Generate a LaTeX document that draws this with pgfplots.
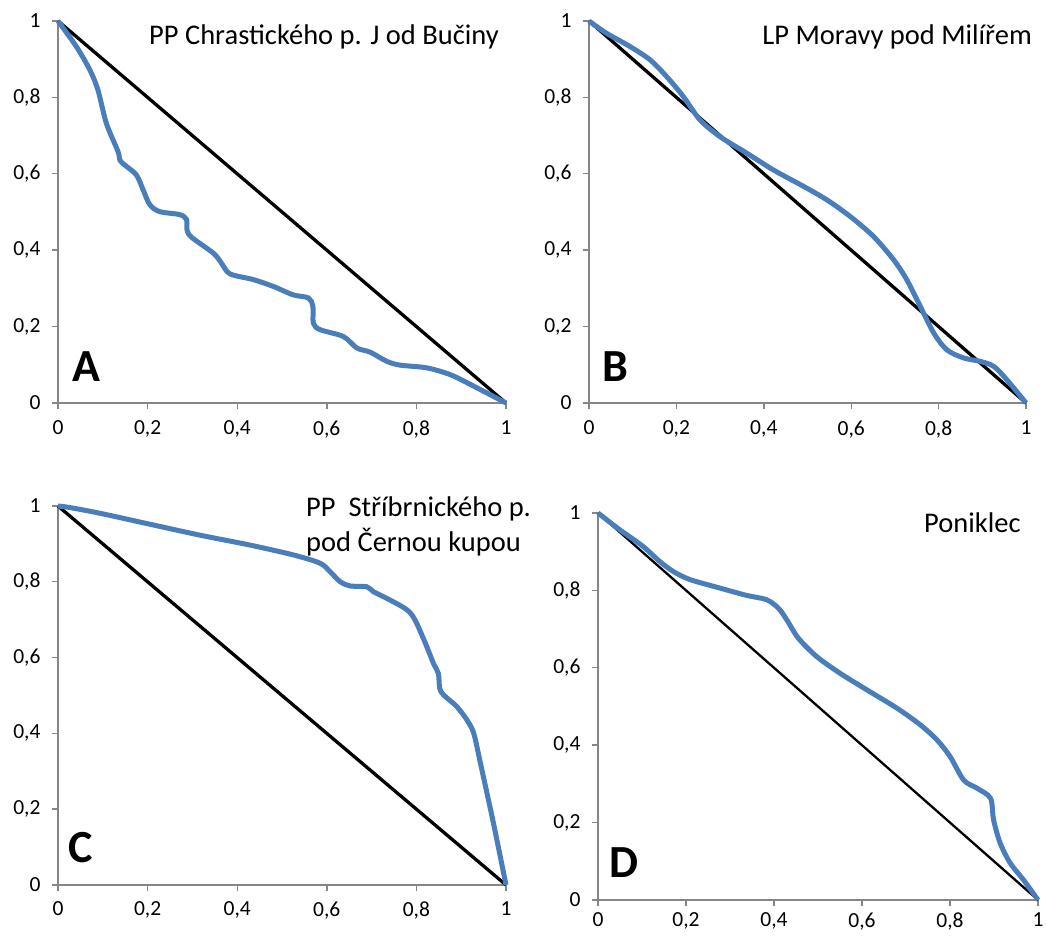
\documentclass[border=0pt]{standalone}
\usepackage{fontspec}
\setmainfont{Carlito}
\usepackage{pgfplots}
\pgfplotsset{compat=1.18}

\definecolor{curve}{RGB}{74,126,187}
\definecolor{axgray}{RGB}{134,134,134}

\pgfplotsset{lorenz/.style={
    scale only axis, anchor=south west,
    xmin=0, xmax=1, ymin=0, ymax=1,
    axis lines*=left,
    axis line style={axgray, line width=1.4pt},
    xtick={0,0.2,0.4,0.6,0.8,1},
    ytick={0,0.2,0.4,0.6,0.8,1},
    tick align=outside, major tick length=6pt,
    tick style={axgray, line width=1.4pt},
    /pgf/number format/assume math mode=true,
    /pgf/number format/use comma,
    ticklabel style={font=\fontsize{21.5}{24}\selectfont},
    yticklabel style={xshift=-8pt},
    clip=false,
  },
  gini/.style={curve, line width=5pt, smooth, tension=0.5},
}

\begin{document}
\begin{tikzpicture}[x=1pt, y=1pt]
\path[use as bounding box] (0,0) rectangle (1046,936);

% A
\begin{axis}[lorenz, at={(58pt,533pt)}, width=448pt, height=382pt,
  xticklabel style={yshift=-8pt}]
\addplot[black, line width=3.3pt] coordinates {(0,1) (1,0)};
\addplot[gini] coordinates {
(0,1) (0.041,0.933) (0.071,0.872) (0.089,0.820) (0.108,0.732) (0.134,0.658)
(0.138,0.636) (0.149,0.623) (0.175,0.597) (0.190,0.558) (0.205,0.519)
(0.227,0.501) (0.272,0.493) (0.287,0.480) (0.288,0.453) (0.298,0.434)
(0.347,0.392) (0.365,0.366) (0.384,0.338) (0.436,0.323) (0.481,0.305)
(0.525,0.283) (0.559,0.275) (0.569,0.253) (0.570,0.209) (0.585,0.192)
(0.637,0.174) (0.667,0.144) (0.697,0.133) (0.734,0.109) (0.764,0.099)
(0.823,0.092) (0.876,0.074) (0.928,0.044) (1,0)};
\end{axis}

% B
\begin{axis}[lorenz, at={(589pt,533pt)}, width=437pt, height=382pt,
  xticklabel style={yshift=-8pt}]
\addplot[black, line width=3.3pt] coordinates {(0,1) (1,0)};
\addplot[gini] coordinates {
(0,1) (0.040,0.968) (0.094,0.933) (0.140,0.898) (0.178,0.854) (0.216,0.802)
(0.254,0.741) (0.300,0.697) (0.361,0.654) (0.422,0.610) (0.491,0.567)
(0.544,0.532) (0.598,0.488) (0.651,0.436) (0.697,0.375) (0.727,0.323)
(0.758,0.253) (0.789,0.183) (0.819,0.139) (0.857,0.118) (0.895,0.109)
(0.926,0.096) (0.956,0.061) (1,0)};
\end{axis}

% C
\begin{axis}[lorenz, at={(58pt,51pt)}, width=448pt, height=379pt,
  xticklabel style={yshift=-7pt}]
\addplot[black, line width=3.3pt] coordinates {(0,1) (1,0)};
\addplot[gini] coordinates {
(0,1) (0.026,0.996) (0.093,0.981) (0.197,0.954) (0.317,0.923) (0.428,0.897)
(0.525,0.871) (0.585,0.849) (0.607,0.827) (0.630,0.800) (0.652,0.789)
(0.689,0.787) (0.704,0.774) (0.741,0.752) (0.779,0.726) (0.797,0.699)
(0.820,0.638) (0.838,0.585) (0.849,0.558) (0.852,0.519) (0.861,0.501)
(0.890,0.471) (0.913,0.435) (0.928,0.400) (0.943,0.321) (0.972,0.163) (1,0)};
\end{axis}

% D
\begin{axis}[lorenz, at={(598pt,36pt)}, width=440pt, height=387pt,
  xticklabel style={yshift=-3pt}]
\addplot[black, line width=2.3pt] coordinates {(0,1) (1,0)};
\addplot[gini] coordinates {
(0,1) (0.049,0.957) (0.102,0.914) (0.140,0.875) (0.171,0.849) (0.209,0.828)
(0.277,0.806) (0.338,0.787) (0.383,0.776) (0.410,0.754) (0.429,0.724)
(0.455,0.677) (0.497,0.629) (0.550,0.586) (0.611,0.543) (0.679,0.496)
(0.732,0.453) (0.770,0.414) (0.800,0.371) (0.831,0.310) (0.861,0.289)
(0.892,0.263) (0.899,0.207) (0.914,0.147) (0.937,0.095) (0.967,0.052) (1,0)};
\end{axis}

% titles and panel letters
\node[anchor=base east, inner sep=0, font=\fontsize{28.5}{32}\selectfont] at (499,891) {PP Chrastického p. J od Bučiny};
\node[anchor=base east, inner sep=0, font=\fontsize{28.5}{32}\selectfont] at (1032,891) {LP Moravy pod Milířem};
\node[anchor=base west, inner sep=0, font=\fontsize{28.5}{32}\selectfont] at (306,419) {PP\ \ Stříbrnického p.};
\node[anchor=base west, inner sep=0, font=\fontsize{28.5}{32}\selectfont] at (306,384) {pod Černou kupou};
\node[anchor=base west, inner sep=0, font=\fontsize{28.5}{32}\selectfont] at (924,403) {Poniklec};

\node[anchor=base west, inner sep=0, font=\bfseries\fontsize{46}{50}\selectfont] at (72,554) {A};
\node[anchor=base west, inner sep=0, font=\bfseries\fontsize{46}{50}\selectfont] at (602,554) {B};
\node[anchor=base west, inner sep=0, font=\bfseries\fontsize{46}{50}\selectfont] at (68,73) {C};
\node[anchor=base west, inner sep=0, font=\bfseries\fontsize{46}{50}\selectfont] at (609,58) {D};
\end{tikzpicture}
\end{document}
